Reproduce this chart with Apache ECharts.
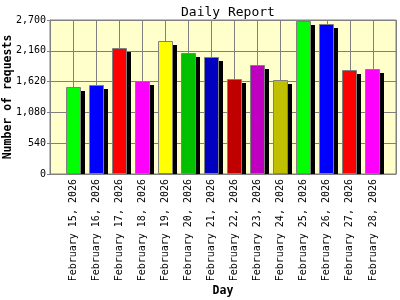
<!DOCTYPE html>
<html><head><meta charset="utf-8">
<script src="https://cdn.jsdelivr.net/npm/echarts@6/dist/echarts.min.js"></script>
<style>html,body{margin:0;padding:0;background:#fff}#c{width:400px;height:300px}</style>
</head><body><div id="c"></div>
<script>
const days = ["February 15, 2026","February 16, 2026","February 17, 2026","February 18, 2026","February 19, 2026","February 20, 2026","February 21, 2026","February 22, 2026","February 23, 2026","February 24, 2026","February 25, 2026","February 26, 2026","February 27, 2026","February 28, 2026"];
const requests = [1520,1555,2203,1630,2326,2121,2046,1660,1905,1642,2677,2624,1818,1835];
const barColors = ["#00ff00","#0000ff","#ff0000","#ff00ff","#ffff00","#00c000","#0000c0","#c00000","#c000c0","#c0c000","#00ff00","#0000ff","#ff0000","#ff00ff"];
const yTicks = [0,540,1080,1620,2160,2700];

const mono = "DejaVu Sans Mono";
const chart = echarts.init(document.getElementById('c'), null, {renderer:'canvas'});
const BW = 15, SH = 4;
chart.setOption({
  animation:false,
  backgroundColor:'#ffffff',
  title:{text:'Daily Report', left:176, top:1, textStyle:{fontFamily:mono, fontSize:13, fontWeight:'normal', color:'#000'}},
  grid:{left:50, right:4, top:20, bottom:126, outerBoundsMode:'none', containLabel:false, show:true, backgroundColor:'#ffffcc', borderColor:'#808080', borderWidth:1},
  xAxis:{type:'value', min:0, max:days.length+1, interval:1,
    name:'Day', nameLocation:'middle', nameGap:111, nameMoveOverlap:false,
    nameTextStyle:{fontFamily:mono, fontSize:11.5, fontWeight:'bold', color:'#000'},
    axisLine:{show:true, lineStyle:{color:'#808080'}}, axisTick:{show:false},
    splitLine:{show:true, lineStyle:{color:'#808080', width:1}},
    axisLabel:{rotate:90, margin:5, fontFamily:mono, fontSize:10, color:'#000',
      formatter:v=>days[v-1]||''}},
  yAxis:{type:'value', min:yTicks[0], max:yTicks[yTicks.length-1], interval:yTicks[1]-yTicks[0],
    name:'Number of requests', nameLocation:'middle', nameGap:36, nameMoveOverlap:false,
    nameTextStyle:{fontFamily:mono, fontSize:11.5, fontWeight:'bold', color:'#000'},
    axisLine:{show:true, lineStyle:{color:'#808080'}},
    axisTick:{show:true, length:3, lineStyle:{color:'#808080'}},
    splitLine:{show:true, lineStyle:{color:'#808080', width:1}},
    axisLabel:{margin:4, fontFamily:mono, fontSize:10, color:'#000',
      formatter:v=>v.toLocaleString('en-US')}},
  series:[{type:'custom',
    data:requests.map((v,i)=>[i+1,v]),
    renderItem:(params, api)=>{
      const x = api.value(0), v = api.value(1);
      const top = api.coord([x, v]);
      const base = api.coord([x, 0]);
      const x0 = Math.round(top[0] - BW/2);
      const y0 = Math.round(top[1]);
      const yb = Math.round(base[1]);
      return {type:'group', children:[
        {type:'rect', shape:{x:x0+SH, y:y0+SH, width:BW, height:Math.max(0,yb-y0-SH)}, style:{fill:'#000'}},
        {type:'rect', shape:{x:x0+0.5, y:y0+0.5, width:BW-1, height:yb-y0-1}, style:{fill:barColors[params.dataIndex], stroke:'#808080', lineWidth:1}}
      ]};
    }}]
});
</script></body></html>
